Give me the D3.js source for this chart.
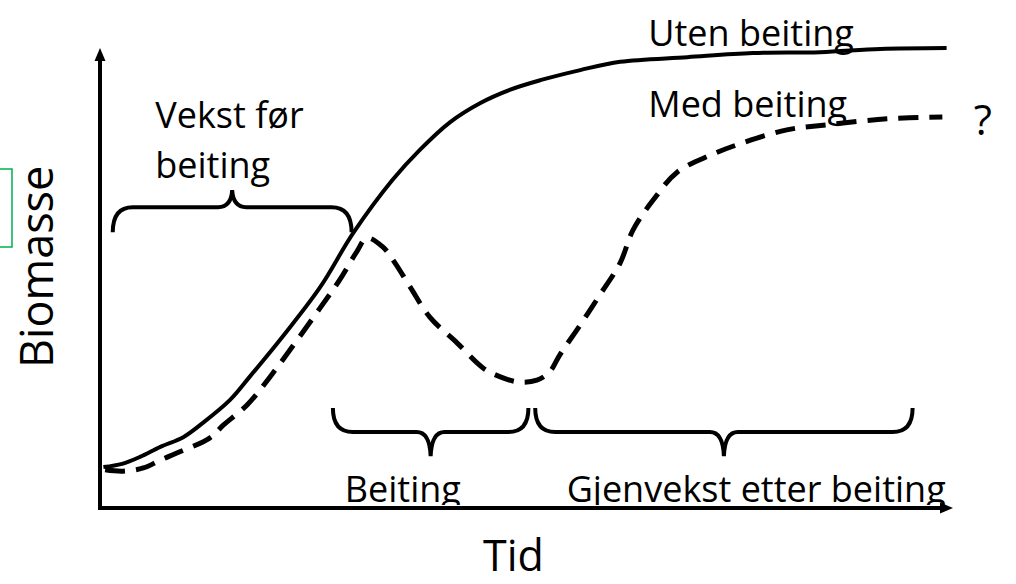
<!DOCTYPE html>
<html>
<head>
<meta charset="utf-8">
<script src="https://cdn.jsdelivr.net/npm/d3@7"></script>
<style>
body { margin: 0; background: #fff; }
svg { display: block; }
text { font-family: "Open Sans", sans-serif; fill: #000; }
</style>
</head>
<body>
<svg width="1016" height="584"></svg>
<script>
// tid (0-100) og biomasse (0-100), lest av figuren
var utenTid = [0.4, 2.6, 4.7, 7.1, 9.8, 12.1, 15.3, 17.6, 21.8, 25.9, 29.8, 34.4, 37.6, 41.2, 44.7, 48.2, 51.8, 56.5, 61.2, 69.1, 76.8, 84.7, 91.8, 99.6];
var utenBiomasse = [8.9, 9.6, 11.1, 13.3, 15.4, 18.5, 23.5, 28.5, 38.0, 48.0, 59.8, 71.3, 77.8, 83.9, 88.0, 90.9, 93.0, 95.2, 97.0, 98.0, 98.9, 99.1, 99.8, 100];

var medTid = [0.6, 2.7, 5.1, 7.1, 9.1, 12.9, 14.5, 17.3, 20.0, 25.9, 28.2, 30.2, 31.4, 33.3, 34.7, 36.5, 38.8, 42.0, 45.1, 47.1, 49.2, 51.4, 52.9, 54.1, 56.5, 58.8, 61.2, 62.7, 65.1, 67.9, 71.8, 75.5, 80.8, 85.5, 92.6, 99.1];
var medBiomasse = [8.3, 8.0, 8.7, 10.4, 12.0, 15.2, 18.0, 22.4, 28.5, 43.5, 49.6, 55.7, 58.7, 56.7, 53.3, 48.0, 41.5, 35.9, 30.4, 28.5, 27.4, 27.8, 29.6, 33.3, 39.8, 46.3, 53.3, 60.4, 67.0, 73.0, 76.7, 79.3, 82.2, 83.3, 84.6, 85.0];

// perioder (klammer)
var periodeNavn = ["Vekst før beiting", "Beiting", "Gjenvekst etter beiting"];
var periodeFra = [1.5, 27.4, 51.2];
var periodeTil = [29.6, 50.4, 95.6];
var periodeNivaa = [65.4, 16.5, 16.5];

var svg = d3.select("svg");

var x = d3.scaleLinear().domain([0, 100]).range([100, 950]);
var y = d3.scaleLinear().domain([0, 100]).range([508, 48]);

svg.append("defs").append("clipPath")
    .attr("id", "overAkse")
  .append("rect")
    .attr("x", 0).attr("y", 0)
    .attr("width", 1016).attr("height", y(0) - 3);

// grønn boks i venstre kant
svg.append("rect")
    .attr("x", -5).attr("y", 169)
    .attr("width", 17).attr("height", 78)
    .attr("fill", "none")
    .attr("stroke", "#00b050")
    .attr("stroke-width", 1.5);

// akser med piler
var akse = svg.append("g");
akse.append("line")
    .attr("x1", x(0)).attr("y1", y(0) + 2)
    .attr("x2", x(0)).attr("y2", y(100) + 10)
    .attr("stroke", "#000").attr("stroke-width", 4);
akse.append("line")
    .attr("x1", x(0) - 2).attr("y1", y(0))
    .attr("x2", x(100) - 10).attr("y2", y(0))
    .attr("stroke", "#000").attr("stroke-width", 4);
akse.append("path")
    .attr("d", "M" + x(0) + "," + y(100) + "l-5.5,13h11z");
akse.append("path")
    .attr("d", "M" + (x(100) + 3) + "," + y(0) + "l-13,-5.5v11z");

var line = d3.line()
    .x(function(d) { return x(d[0]); })
    .y(function(d) { return y(d[1]); })
    .curve(d3.curveCatmullRom.alpha(0.5));

svg.append("path")
    .datum(d3.zip(utenTid, utenBiomasse))
    .attr("d", line)
    .attr("fill", "none")
    .attr("stroke", "#000")
    .attr("stroke-width", 4);

// klammer
function klamme(i) {
    var x0 = x(periodeFra[i]), x1 = x(periodeTil[i]), yh = y(periodeNivaa[i]);
    var dir = i == 0 ? -1 : 1;         // -1: spiss opp, 1: spiss ned
    var arm = (i == 0 ? 25 : 24) * dir, tip = (i == 0 ? 17 : 24) * dir, xm = (x0 + x1) / 2;
    var ye = yh - arm, yt = yh + tip;
    return "M" + x0 + "," + ye +
        "Q" + x0 + "," + yh + " " + (x0 + 20) + "," + yh +
        "L" + (xm - 14) + "," + yh +
        "Q" + (xm - 1) + "," + yh + " " + xm + "," + yt +
        "Q" + (xm + 1) + "," + yh + " " + (xm + 14) + "," + yh +
        "L" + (x1 - 20) + "," + yh +
        "Q" + x1 + "," + yh + " " + x1 + "," + ye;
}

svg.append("g")
    .selectAll("path")
    .data(periodeNavn)
    .enter().append("path")
    .attr("d", function(d, i) { return klamme(i); })
    .attr("fill", "none")
    .attr("stroke", "#000")
    .attr("stroke-width", 4);

// tekster
var tekst = svg.append("g").style("font-size", "36px");

tekst.append("text").attr("x", x(64.5)).attr("y", y(100.4)).text("Uten beiting");
tekst.append("text").attr("x", x(64.5)).attr("y", y(85)).text("Med beiting");
tekst.append("text").attr("x", x(102.8)).attr("y", y(81.1)).style("font-size", "42px").text("?");
tekst.append("text").attr("x", x(6.5)).attr("y", y(82.6)).text("Vekst før");
tekst.append("text").attr("x", x(6.5)).attr("y", y(71.7)).text("beiting");

var nede = tekst.append("g").attr("clip-path", "url(#overAkse)");
nede.append("text").attr("x", x(28.8)).attr("y", y(1.3)).text(periodeNavn[1]);
nede.append("text").attr("x", x(54.9)).attr("y", y(1.3)).text(periodeNavn[2]);

// stiplet linje over teksten
svg.append("path")
    .datum(d3.zip(medTid, medBiomasse))
    .attr("d", line)
    .attr("fill", "none")
    .attr("stroke", "#000")
    .attr("stroke-width", 5)
    .attr("stroke-dasharray", "20,11");

svg.append("text")
    .attr("x", 483).attr("y", 571)
    .style("font-size", "43px")
    .text("Tid");

svg.append("text")
    .attr("transform", "translate(53,368) rotate(-90)")
    .style("font-size", "45px")
    .text("Biomasse");
</script>
</body>
</html>
